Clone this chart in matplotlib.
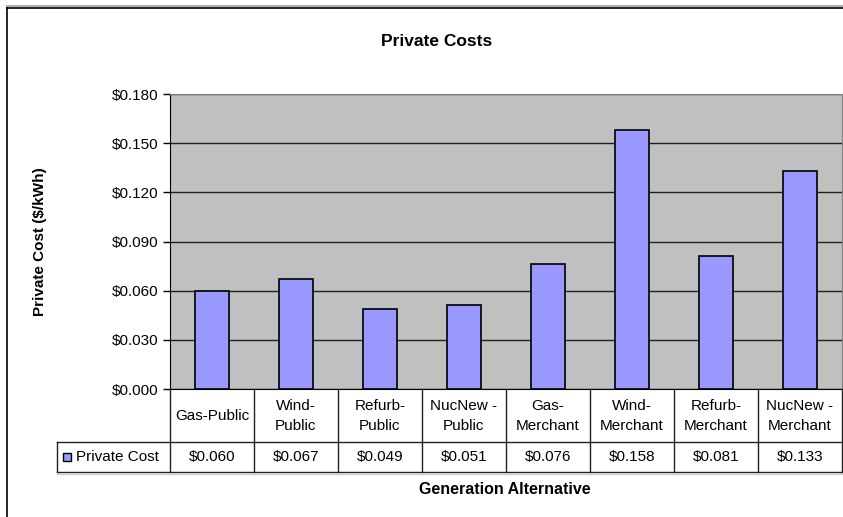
import matplotlib
matplotlib.use('Agg')
import matplotlib.pyplot as plt
from matplotlib.lines import Line2D
from matplotlib.patches import Rectangle

plt.rcParams['font.family'] = ['Liberation Sans', 'DejaVu Sans']

categories = ['Gas-Public', 'Wind-\nPublic', 'Refurb-\nPublic', 'NucNew -\nPublic',
              'Gas-\nMerchant', 'Wind-\nMerchant', 'Refurb-\nMerchant', 'NucNew -\nMerchant']
private_cost = [0.060, 0.067, 0.049, 0.051, 0.076, 0.158, 0.081, 0.133]
yticks = [0.000, 0.030, 0.060, 0.090, 0.120, 0.150, 0.180]
series_name = 'Private Cost'

W, H = 843, 517
BAR = '#9999FF'
FS = 11
fig = plt.figure(figsize=(W / 100, H / 100), dpi=100)

def fx(px):
    return px / W

def fy(py):
    return 1 - py / H

# outer chart frame (right and bottom run off the page)
fig.add_artist(Line2D([fx(7), 1], [fy(6), fy(6)], color='#b0b0b0', lw=1.5))
fig.add_artist(Line2D([fx(7), 1], [fy(8), fy(8)], color='black', lw=1.2))
fig.add_artist(Line2D([fx(7), fx(7)], [fy(8), 0], color='black', lw=1.2))

# plot area
left, right, top, bottom = 170, 842, 94, 389
ax = fig.add_axes([fx(left), fy(bottom), fx(right - left), fy(top) - fy(bottom)])
ax.set_facecolor('#C0C0C0')
n = len(categories)
x = list(range(n))
ax.bar(x, private_cost, width=0.41, color=BAR, edgecolor='black', linewidth=1.2, zorder=3)
ax.set_xlim(-0.5, n - 0.5)
ax.set_ylim(0, 0.18)
ax.set_yticks(yticks)
ax.set_yticklabels([f'${v:.3f}' for v in yticks], fontsize=FS)
ax.yaxis.grid(True, color='#202020', lw=1.0, zorder=1)
ax.set_xticks([])
ax.tick_params(axis='y', direction='out', length=5, width=1, pad=3)
for side in ['top', 'right']:
    ax.spines[side].set_color('#808080')
ax.spines['left'].set_color('black')
ax.spines['bottom'].set_color('black')

# data table under the axis, x in category units, y in pixels
leg_left = 57
tx0 = -0.5 - (left - leg_left) / ((right - left) / n)
tax = fig.add_axes([fx(leg_left), fy(472), fx(right - leg_left), fy(389) - fy(472)])
tax.set_xlim(tx0, n - 0.5)
tax.set_ylim(472, 389)
tax.axis('off')
lk = dict(color='#202020', lw=1.0, clip_on=False)
for i in range(n + 1):
    tax.plot([i - 0.5, i - 0.5], [389, 472], **lk)
tax.plot([tx0, tx0], [442, 472], **lk)
tax.plot([tx0, n - 0.5], [442, 442], **lk)
tax.plot([tx0, n - 0.5], [472, 472], **lk)
tax.plot([tx0, n - 0.5], [474, 474], color='#d0d0d0', lw=1.0, clip_on=False)
for i, (cat, v) in enumerate(zip(categories, private_cost)):
    tax.text(i, 416, cat, ha='center', va='center', fontsize=FS, linespacing=1.6)
    tax.text(i, 457.5, f'${v:.3f}', ha='center', va='center', fontsize=FS)
tax.add_patch(Rectangle((tx0 + 0.07, 453), 0.1, 8, facecolor=BAR,
                        edgecolor='black', lw=1.0, clip_on=False))
tax.text(tx0 + 0.23, 457.5, series_name, ha='left', va='center', fontsize=FS)

fig.text(fx(437), fy(42), 'Private Costs', ha='center', va='center',
         fontsize=12.5, fontweight='bold')
fig.text(fx(40), fy(242), 'Private Cost ($/kWh)', ha='center', va='center',
         rotation=90, fontsize=FS, fontweight='bold')
fig.text(fx(505), fy(489), 'Generation Alternative', ha='center', va='center',
         fontsize=11.5, fontweight='bold')

fig.savefig('out.png', dpi=100)
